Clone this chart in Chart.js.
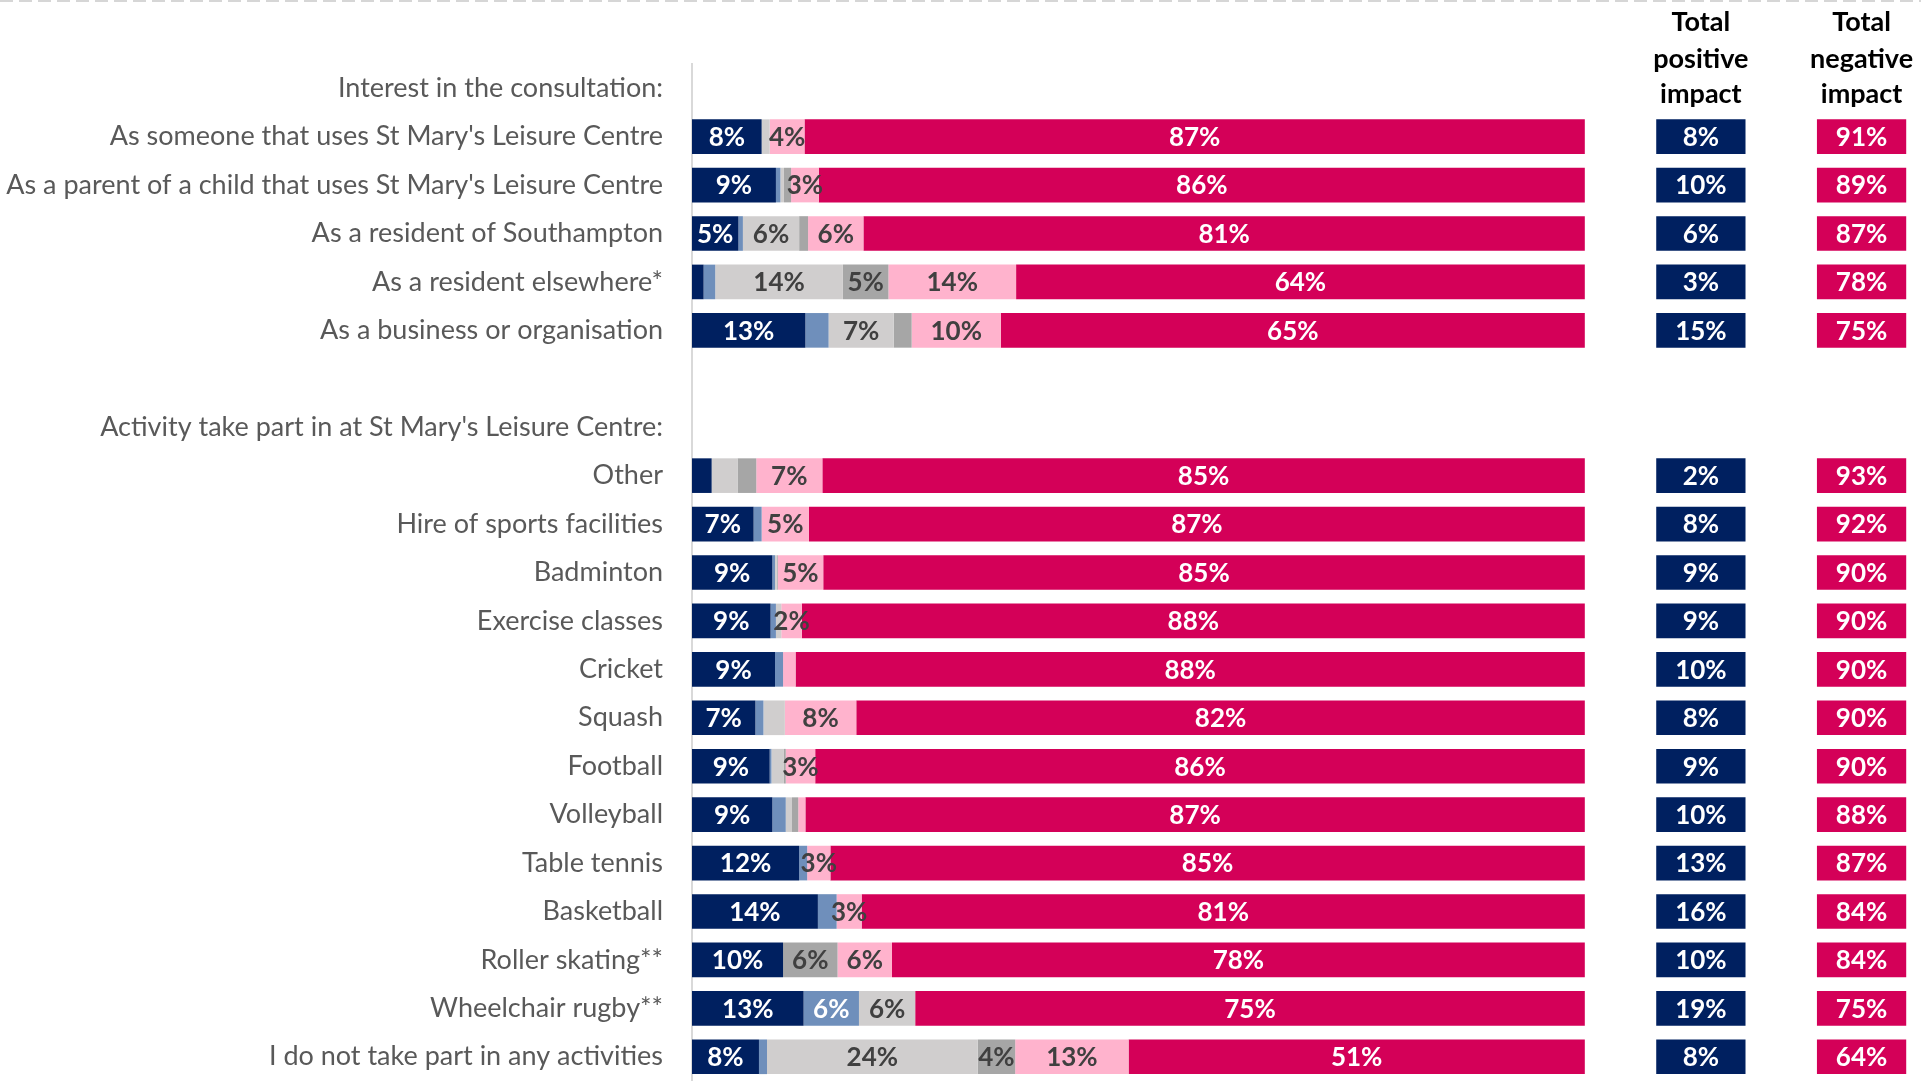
<!DOCTYPE html>
<html>
<head>
<meta charset="utf-8">
<script src="https://cdn.jsdelivr.net/npm/chart.js@4.4.1/dist/chart.umd.min.js"></script>
<style>
  html, body { margin: 0; padding: 0; background: #fff; }
  #wrap { width: 1921px; height: 1081px; position: relative; }
</style>
</head>
<body>
<div id="wrap"><canvas id="impactChart"></canvas></div>
<script>
// categories (header rows and the blank spacer row carry no data)
const categories = [
  'Interest in the consultation:',
  "As someone that uses St Mary's Leisure Centre",
  "As a parent of a child that uses St Mary's Leisure Centre",
  'As a resident of Southampton',
  'As a resident elsewhere*',
  'As a business or organisation',
  '',
  "Activity take part in at St Mary's Leisure Centre:",
  'Other',
  'Hire of sports facilities',
  'Badminton',
  'Exercise classes',
  'Cricket',
  'Squash',
  'Football',
  'Volleyball',
  'Table tennis',
  'Basketball',
  'Roller skating**',
  'Wheelchair rugby**',
  'I do not take part in any activities'
];

// segment values (%)
const veryPositive = [null, 7.8, 9.4, 5.2, 1.3, 12.7, null, null, 2.2, 6.9, 9.0, 8.8, 9.3, 7.1, 8.7, 9.0, 12.0, 14.1, 10.2, 12.5, 7.5];
const positive     = [null, 0, 0.5, 0.5, 1.3, 2.6, null, null, 0, 0.9, 0.3, 0.6, 0.9, 0.9, 0.2, 1.5, 0.9, 2.1, 0, 6.2, 0.9];
const neither      = [null, 0.9, 0.4, 6.3, 14.3, 7.3, null, null, 2.9, 0, 0.2, 0.6, 0, 2.4, 1.4, 0.7, 0, 0, 0, 6.3, 23.6];
const dontKnow     = [null, 0, 0.8, 1.0, 5.1, 2.0, null, null, 2.1, 0, 0.1, 0, 0, 0, 0.2, 0.7, 0, 0, 6.1, 0, 4.2];
const negative     = [null, 3.9, 3.1, 6.2, 14.3, 10.0, null, null, 7.4, 5.3, 5.1, 2.3, 1.4, 8.0, 3.3, 0.8, 2.6, 2.8, 6.1, 0, 12.7];
const veryNegative = [null, 87.4, 85.8, 80.8, 63.7, 65.4, null, null, 85.4, 86.9, 85.3, 87.7, 88.4, 81.6, 86.2, 87.3, 84.5, 81.0, 77.6, 75.0, 51.1];

// summary columns
const totalPositive = [null, 8, 10, 6, 3, 15, null, null, 2, 8, 9, 9, 10, 8, 9, 10, 13, 16, 10, 19, 8];
const totalNegative = [null, 91, 89, 87, 78, 75, null, null, 93, 92, 90, 90, 90, 90, 90, 88, 87, 84, 84, 75, 64];

const posHeader = ['Total', 'positive', 'impact'];
const negHeader = ['Total', 'negative', 'impact'];

// where the summary boxes sit on the value axis
const posBox = [108, 118];
const negBox = [126, 136];

const FONT = 'Lato, "Open Sans", sans-serif';
const DARK = '#404040';

function seg(data, color, textColor, labelMin) {
  return {
    data: data,
    backgroundColor: color,
    stack: 'main',
    grouped: false,
    labelColor: textColor,
    labelMin: labelMin
  };
}

function box(values, range, color, stack) {
  return {
    data: values.map(v => v == null ? null : range),
    backgroundColor: color,
    stack: stack,
    grouped: false,
    labelColor: '#ffffff',
    labelValues: values
  };
}

// draws the % labels inside bars, the column headers and the dashed rule
const labelPlugin = {
  id: 'labelPlugin',
  beforeDraw(chart) {
    const c = chart.ctx;
    c.save();
    c.strokeStyle = '#d6d6d6';
    c.lineWidth = 2;
    c.setLineDash([13, 6]);
    c.beginPath();
    c.moveTo(0, 1);
    c.lineTo(chart.width, 1);
    c.stroke();
    c.restore();
  },
  afterDatasetsDraw(chart) {
    const c = chart.ctx;
    c.save();
    c.font = 'bold 26px ' + FONT;
    c.textAlign = 'center';
    c.textBaseline = 'middle';
    chart.data.datasets.forEach((ds, i) => {
      const meta = chart.getDatasetMeta(i);
      meta.data.forEach((el, j) => {
        const raw = ds.data[j];
        if (raw == null) return;
        let v;
        if (ds.labelValues) {
          v = ds.labelValues[j];
        } else {
          v = raw;
          if (v < ds.labelMin) return;
        }
        c.fillStyle = ds.labelColor;
        c.fillText(Math.round(v) + '%', (el.x + el.base) / 2, el.y + 1);
      });
    });

    // column headers
    const x = chart.scales.x;
    const y0 = chart.scales.y.getPixelForValue(0);
    c.fillStyle = '#000000';
    c.font = 'bold 27px ' + FONT;
    const pc = x.getPixelForValue((posBox[0] + posBox[1]) / 2);
    const nc = x.getPixelForValue((negBox[0] + negBox[1]) / 2);
    [-66, -29, 6].forEach((dy, k) => {
      c.fillText(posHeader[k], pc, y0 + dy);
      c.fillText(negHeader[k], nc, y0 + dy);
    });
    c.restore();
  }
};

const ctx = document.getElementById('impactChart').getContext('2d');

const impactChart = new Chart(ctx, {
  type: 'bar',
  data: {
    labels: categories,
    datasets: [
      seg(veryPositive, '#002060', '#ffffff', 3),
      seg(positive, '#6f8fbb', '#ffffff', 3),
      seg(neither, '#d0cece', DARK, 3),
      seg(dontKnow, '#a6a6a6', DARK, 3),
      seg(negative, '#ffb3cd', DARK, 2),
      seg(veryNegative, '#d40058', '#ffffff', 3),
      box(totalPositive, posBox, '#002060', 'pos'),
      box(totalNegative, negBox, '#d40058', 'neg')
    ]
  },
  options: {
    indexAxis: 'y',
    responsive: true,
    maintainAspectRatio: false,
    animation: false,
    barPercentage: 0.715,
    categoryPercentage: 1,
    layout: {
      padding: { top: 64, right: 13, bottom: 0, left: 0 }
    },
    scales: {
      x: {
        stacked: true,
        display: false,
        min: 0,
        max: 136.2
      },
      y: {
        stacked: true,
        grid: { display: false, drawTicks: false },
        border: { display: true, color: '#d9d9d9', width: 2 },
        ticks: {
          autoSkip: false,
          padding: 29,
          color: '#595959',
          font: { family: FONT, size: 27 }
        },
        afterFit(scale) {
          // fixed label column, and no extra vertical padding from the tick padding
          scale.width = 692;
          scale.paddingTop = 0;
          scale.paddingBottom = 0;
        }
      }
    },
    plugins: {
      legend: { display: false },
      tooltip: { enabled: false }
    }
  },
  plugins: [labelPlugin]
});
</script>
</body>
</html>
